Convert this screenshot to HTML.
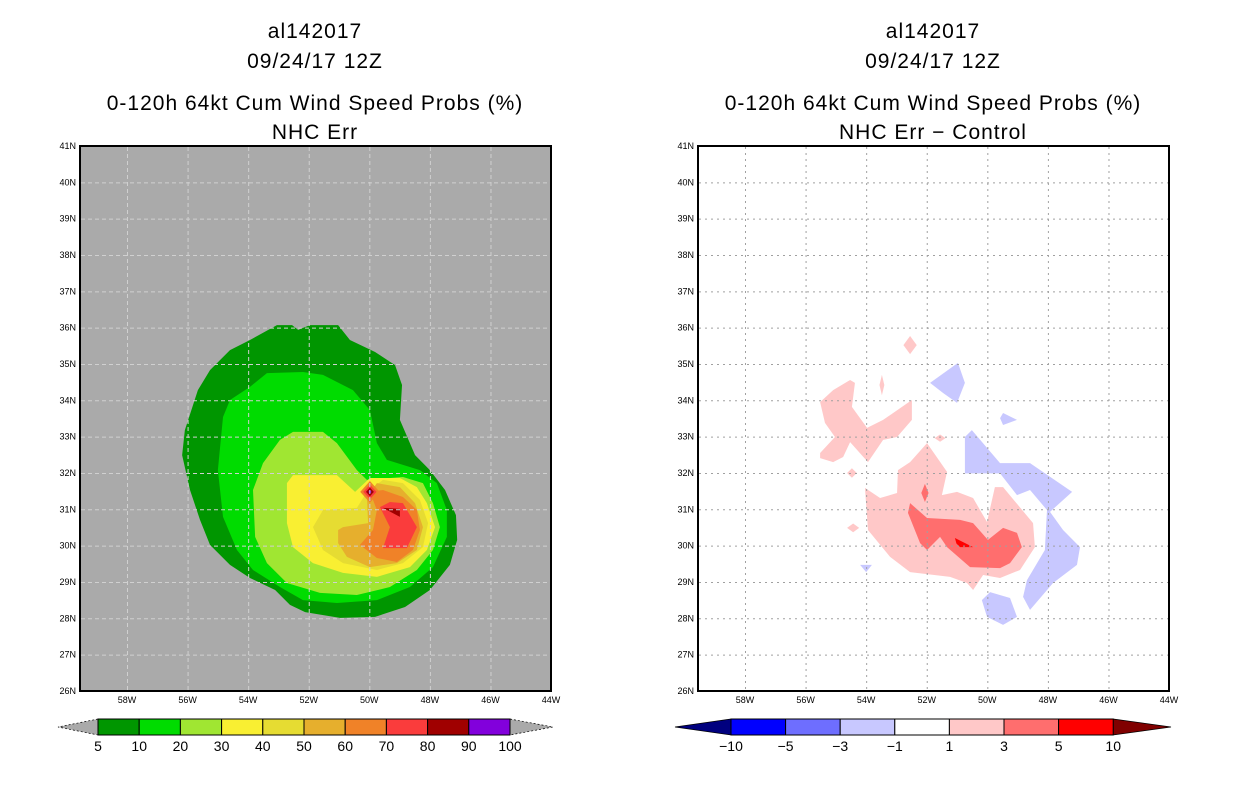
<!DOCTYPE html>
<html><head><meta charset="utf-8"><style>
body{margin:0;background:#fff;width:1236px;height:800px;overflow:hidden;font-family:"Liberation Sans",sans-serif}
svg{position:absolute;left:0;top:0}
.t{font-size:21px;text-anchor:middle;fill:#000;letter-spacing:1px}
.k{font-size:9px;fill:#000}
.c{font-size:14px;text-anchor:middle;fill:#000}
</style></head><body>
<svg id="s" width="1236" height="800"></svg>
<script>
const lonTicks=[58,56,54,52,50,48,46,44];
const latTicks=[26,27,28,29,30,31,32,33,34,35,36,37,38,39,40,41];
const leftLevels=["5","10","20","30","40","50","60","70","80","90","100"];
const leftColors=["#009600","#00dc00","#a0e632","#f9ef32","#e6dc32","#e6af2d","#f08228","#fa3c3c","#a00000","#8200dc"];
const rightLevels=["-10","-5","-3","-1","1","3","5","10"];
const rightColors=["#0000ff","#6e6eff","#c8c8ff","#ffffff","#ffc8c8","#ff6e6e","#ff0000"];
const p05=[[53.05,36.07],[52.55,36.07],[52.35,35.94],[51.96,36.07],[51.03,36.07],[50.64,35.66],[49.81,35.33],[49.15,34.97],[48.92,34.42],[48.99,33.46],[48.49,32.49],[48.0,32.08],[47.5,31.53],[47.14,30.84],[47.1,30.16],[47.34,29.47],[48.0,28.78],[48.82,28.31],[49.81,28.04],[50.97,28.01],[52.12,28.17],[52.62,28.37],[53.11,28.78],[53.94,29.11],[54.6,29.47],[55.26,30.02],[55.59,30.71],[55.92,31.53],[56.18,32.49],[56.09,33.18],[55.66,34.28],[55.26,34.83],[54.6,35.38],[53.94,35.66]];
const p10=[[53.94,34.37],[53.38,34.75],[52.19,34.78],[51.53,34.70],[50.54,34.28],[49.98,33.73],[49.75,32.82],[49.42,32.36],[48.33,32.08],[47.77,31.72],[47.44,30.98],[47.44,30.24],[47.90,29.41],[48.66,28.86],[49.75,28.50],[51.07,28.42],[52.19,28.50],[52.95,28.86],[53.84,29.33],[54.37,29.88],[54.83,30.79],[55.00,32.08],[54.83,33.54],[54.60,34.01]];
const p20=[[52.95,32.91],[52.52,33.13],[51.53,33.13],[51.07,32.82],[50.41,32.08],[50.08,31.81],[48.89,31.89],[48.23,31.72],[47.90,31.17],[47.67,30.51],[47.90,29.88],[48.43,29.33],[49.32,28.86],[50.41,28.64],[51.63,28.70],[52.72,28.97],[53.38,29.52],[53.77,30.24],[53.84,31.53],[53.51,32.27]];
const p30=[[52.72,31.72],[52.52,31.94],[51.07,31.94],[50.47,31.48],[49.98,31.86],[48.99,31.86],[48.43,31.61],[48.10,31.17],[47.83,30.51],[48.10,29.88],[48.66,29.41],[49.75,29.14],[50.87,29.25],[51.86,29.52],[52.52,29.96],[52.72,30.62]];
const p40=[[51.86,30.51],[51.53,30.98],[50.41,31.04],[50.08,31.48],[49.55,31.81],[48.89,31.72],[48.33,31.26],[48.06,30.62],[48.23,29.96],[48.89,29.52],[49.75,29.33],[50.87,29.52],[51.53,29.88]];
const p50=[[51.03,30.43],[50.87,30.51],[50.04,30.62],[50.08,31.34],[49.75,31.72],[48.99,31.61],[48.49,31.17],[48.23,30.51],[48.43,29.88],[49.09,29.52],[49.98,29.41],[50.74,29.69],[51.03,30.07]];
const p60=[[50.31,30.02],[49.88,30.43],[49.75,30.98],[49.98,31.48],[49.55,31.53],[48.89,31.34],[48.43,30.98],[48.33,30.43],[48.56,29.88],[49.09,29.55],[49.75,29.66]];
const p70=[[49.65,31.06],[49.32,31.20],[48.89,31.17],[48.43,30.51],[48.76,29.93],[49.55,29.93],[49.32,30.51]];
const p80=[[49.55,31.04],[48.99,31.01],[48.99,30.79]];
const peak=[49.98,31.48];
const peakSizes=[[0.32,0.3,6],[0.22,0.2,7],[0.13,0.12,8],[0.05,0.06,9]];
const d1a=[[54.04,31.59],[53.54,31.31],[52.98,31.45],[52.95,32.08],[52.55,32.30],[51.99,32.82],[51.33,32.03],[51.50,31.39],[51.0,31.48],[50.47,31.31],[50.01,30.65],[49.75,31.61],[49.48,31.61],[48.49,30.62],[48.43,29.96],[48.92,29.33],[49.58,29.11],[50.14,29.19],[50.47,28.78],[50.67,28.97],[51.23,29.14],[52.55,29.27],[53.21,29.69],[53.94,30.43]];
const d1b=[[55.52,33.95],[55.09,34.28],[54.53,34.56],[54.37,34.48],[54.47,33.82],[53.97,33.24],[53.44,33.46],[52.49,34.01],[52.49,33.46],[52.98,32.99],[53.44,32.91],[53.94,32.30],[54.53,32.85],[54.76,32.44],[55.09,32.30],[55.52,32.41],[55.52,32.55],[55.03,32.99],[55.36,33.38]];
const d1dots=[[52.55,35.52,0.22,0.25],[53.48,34.42,0.08,0.28],[51.56,32.96,0.18,0.1],[54.47,32.0,0.16,0.13],[54.43,30.49,0.2,0.12]];
const d3=[[52.55,31.17],[51.99,30.76],[50.90,30.71],[50.47,30.62],[49.98,30.16],[49.48,30.49],[49.02,30.35],[48.86,29.96],[49.25,29.52],[49.58,29.38],[50.57,29.41],[51.33,29.96],[51.56,30.24],[51.99,29.88],[52.22,30.07],[52.62,30.90]];
const d3dot=[52.06,31.45,0.12,0.25];
const d5=[[51.07,30.21],[51.02,30.06],[50.90,29.96],[50.47,29.96]];
const n1a=[[51.89,34.48],[50.97,35.03],[50.74,34.48],[51.0,33.93],[51.46,34.2]];
const n1b=[[49.58,33.51],[49.48,33.65],[49.02,33.46],[49.48,33.32]];
const n1c=[[50.74,32.99],[50.51,33.18],[49.58,32.27],[48.59,32.27],[47.20,31.48],[47.93,30.93],[47.50,30.43],[46.94,29.96],[47.04,29.47],[47.83,28.97],[48.59,28.23],[48.82,28.59],[48.69,29.05],[48.10,29.88],[48.03,30.98],[48.59,31.53],[49.02,31.39],[49.58,31.99],[50.74,31.99]];
const n1d=[[50.18,28.50],[49.91,28.72],[49.25,28.56],[49.02,28.04],[49.48,27.82],[50.01,28.04]];
const n1e=[[54.20,29.47],[53.81,29.47],[54.0,29.27]];

const NS='http://www.w3.org/2000/svg',S=document.getElementById('s');
function el(t,a,par){const e=document.createElementNS(NS,t);for(const k in a)e.setAttribute(k,a[k]);(par||S).appendChild(e);return e;}
function mk(ox){return{x:l=>ox+127+(58-l)*30.29,y:la=>146+(41-la)*36.33};}
function poly(ax,pts,fill,name,g){const p=el('polygon',{points:pts.map(q=>ax.x(q[0])+','+ax.y(q[1])).join(' '),fill:fill},g);

return p;}
function diamond(ax,c,hw,hh,fill,name,g){return poly(ax,[[c[0],c[1]+hh],[c[0]-hw,c[1]],[c[0],c[1]-hh],[c[0]+hw,c[1]]],fill,name,g);}
function txt(x,y,s,cls,name,anchor){const t=el('text',{x:x,y:y,class:cls});if(anchor)t.setAttribute('text-anchor',anchor);t.textContent=s;

return t;}

function panel(ox,bg,gridCol,dash,sub,draw,side){
  const ax=mk(ox),g=el('g',{});
  
  
  const cx=ox+315;
  txt(cx,38,'al142017','t',side+'-storm-id');
  txt(cx,68,'09/24/17 12Z','t',side+'-date');
  txt(cx,110,'0-120h 64kt Cum Wind Speed Probs (%)','t',side+'-title');
  txt(cx,139,sub,'t',side+'-subtitle');
  const r=el('rect',{x:ox+80,y:146,width:471,height:545,fill:bg},g);
  
  
  draw(ax,g);
  const gg=el('g',{stroke:gridCol,'stroke-width':1,'stroke-dasharray':dash},g);
  
  
  lonTicks.slice(0,7).forEach(l=>el('line',{x1:ax.x(l)+.5,x2:ax.x(l)+.5,y1:147,y2:690},gg));
  latTicks.slice(1,15).forEach(l=>el('line',{x1:ox+81,x2:ox+550,y1:ax.y(l)+.5,y2:ax.y(l)+.5},gg));
  const f=el('rect',{x:ox+80,y:146,width:471,height:545,fill:'none',stroke:'#000','stroke-width':2},g);
  
  
  latTicks.forEach(l=>txt(ox+76,ax.y(l)+3,l+'N','k',side+'-y-tick','end'));
  lonTicks.forEach(l=>txt(ax.x(l),703,l+'W','k',side+'-x-tick','middle'));
}
panel(0,'#aaaaaa','#d0d0d0','4,3','NHC Err',(ax,g)=>{
  [p05,p10,p20,p30,p40,p50,p60,p70,p80].forEach((p,i)=>poly(ax,p,leftColors[i],'prob-contour-'+leftLevels[i],g));
  peakSizes.forEach((s,i)=>diamond(ax,peak,s[0],s[1],leftColors[s[2]],'prob-peak-'+leftLevels[s[2]],g));
},'left');
panel(618,'#ffffff','#a0a0a0','2,4','NHC Err − Control',(ax,g)=>{
  poly(ax,d1a,rightColors[4],'diff-pos-1-main',g);
  poly(ax,d1b,rightColors[4],'diff-pos-1-northwest',g);
  d1dots.forEach(d=>diamond(ax,d,d[2],d[3],rightColors[4],'diff-pos-1-spot',g));
  [n1a,n1b,n1c,n1d,n1e].forEach(p=>poly(ax,p,rightColors[2],'diff-neg-1',g));
  poly(ax,d3,rightColors[5],'diff-pos-3',g);
  diamond(ax,d3dot,d3dot[2],d3dot[3],rightColors[5],'diff-pos-3-spot',g);
  poly(ax,d5,rightColors[6],'diff-pos-5',g);
},'right');

(function(){const g=el('g',{});
 const x0=98,w=41.2,y0=719,h=16,n=leftColors.length;
 const a=el('polygon',{points:`${x0},${y0} 58,727 ${x0},${y0+h}`,fill:'#aaaaaa',stroke:'#000','stroke-dasharray':'2,2','stroke-width':.7},g);
 
 const b=el('polygon',{points:`${x0+n*w},${y0} 553,727 ${x0+n*w},${y0+h}`,fill:'#aaaaaa',stroke:'#000','stroke-dasharray':'2,2','stroke-width':.7},g);
 
 leftColors.forEach((c,i)=>{const r=el('rect',{x:x0+i*w,y:y0,width:w,height:h,fill:c,stroke:'#000','stroke-width':1},g);
  });
 leftLevels.forEach((s,i)=>txt(x0+i*w,751,s,'c','left-colorbar-label'));
})();
(function(){const g=el('g',{});
 const x0=731,w=54.6,y0=719,h=16,n=rightColors.length;
 const a=el('polygon',{points:`${x0},${y0} 675,727 ${x0},${y0+h}`,fill:'#00007f',stroke:'#000','stroke-width':.7},g);
 
 const b=el('polygon',{points:`${x0+n*w},${y0} 1171,727 ${x0+n*w},${y0+h}`,fill:'#800000',stroke:'#000','stroke-width':.7},g);
 
 rightColors.forEach((c,i)=>{const r=el('rect',{x:x0+i*w,y:y0,width:w,height:h,fill:c,stroke:'#000','stroke-width':1},g);
  });
 rightLevels.forEach((s,i)=>txt(x0+i*w,751,s.replace('-','−'),'c','right-colorbar-label'));
})();
</script>
</body></html>
